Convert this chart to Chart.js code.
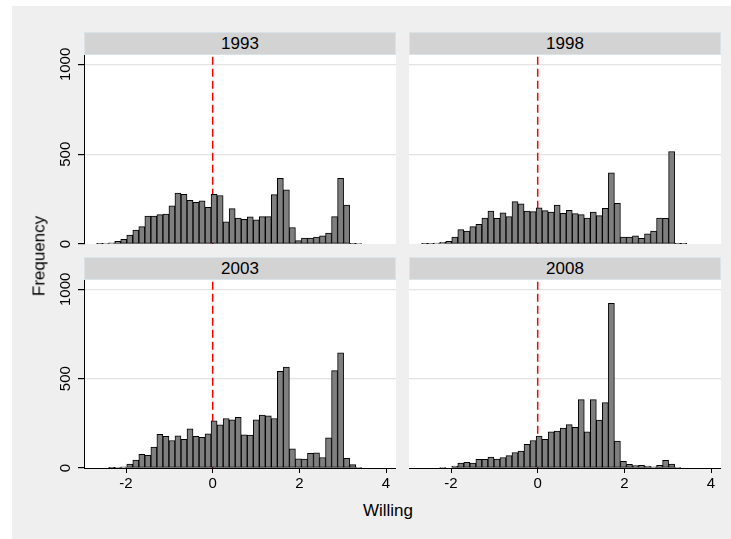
<!DOCTYPE html>
<html>
<head>
<meta charset="utf-8">
<script src="https://cdn.jsdelivr.net/npm/chart.js@4.4.1/dist/chart.umd.min.js"></script>
<style>
  body { margin: 0; background: #ffffff; font-family: "Liberation Sans", Arial, Helvetica, sans-serif; overflow: hidden; }
  #graph { position: absolute; left: 12px; top: 6px; right: 0; bottom: 0; background: #efefef; }
  canvas { position: absolute; }
  .strip {
    position: absolute; box-sizing: border-box; height: 23px; width: 312px;
    background: #d3d3d3; border: 1px solid #d8e4ea;
    font-size: 17px; line-height: 21px; text-align: center; color: #000;
  }
  .title { position: absolute; font-size: 17px; line-height: 1; color: #000; white-space: nowrap; }
</style>
</head>
<body>
<div id="graph"></div>

<canvas id="p1993" width="366" height="214" style="left:30px;top:40px"></canvas>
<canvas id="p1998" width="312" height="214" style="left:409px;top:40px"></canvas>
<canvas id="p2003" width="366" height="236" style="left:30px;top:262px"></canvas>
<canvas id="p2008" width="312" height="236" style="left:409px;top:262px"></canvas>

<div class="strip" style="left:84px;top:32px">1993</div>
<div class="strip" style="left:409px;top:32px">1998</div>
<div class="strip" style="left:84px;top:257px">2003</div>
<div class="strip" style="left:409px;top:257px">2008</div>

<div class="title" style="left:39px;top:256px;transform:translate(-50%,-50%) rotate(-90deg)">Frequency</div>
<div class="title" style="left:388px;top:510px;transform:translate(-50%,-50%)">Willing</div>

<script>
// histogram bins shared by all four years
var binStart = -2.678;
var binWidth = 0.139;

// frequency per bin, one array per survey year
var freq1993 = [2, 3, 6, 15, 26, 50, 78, 97, 156, 156, 164, 167, 212, 284, 277, 243, 232, 240, 204, 277,
                270, 123, 197, 145, 138, 151, 134, 152, 152, 275, 366, 301, 91, 19, 33, 33, 39, 46, 61, 152,
                366, 217, 2, 3];
var freq1998 = [2, 1, 5, 9, 15, 39, 80, 72, 97, 110, 145, 184, 143, 173, 152, 236, 223, 184, 180, 201,
                186, 178, 217, 171, 188, 169, 164, 145, 178, 158, 199, 396, 227, 39, 39, 45, 32, 56, 72, 145,
                143, 515, 2, 2];
var freq2003 = [0, 0, 2, 4, 7, 22, 45, 76, 71, 117, 188, 177, 154, 180, 160, 219, 177, 171, 191, 264,
                242, 277, 270, 283, 186, 184, 270, 296, 292, 277, 541, 565, 108, 52, 50, 82, 85, 59, 169, 545,
                645, 54, 19, 4];
var freq2008 = [0, 0, 0, 4, 0, 11, 28, 32, 28, 48, 48, 61, 50, 59, 69, 87, 95, 132, 154, 178,
                160, 203, 206, 223, 243, 227, 383, 203, 383, 268, 366, 922, 150, 37, 20, 13, 15, 11, 6, 15,
                43, 22, 4, 0];

// axes
var xMin = -2.97, xMax = 4.23;
var yMin = 0, yMax = 1058;
var xTicks = [-2, 0, 2, 4];
var yTicks = [0, 500, 1000];
var refLine = 0;       // vertical reference line at Willing = 0
var refLineTop = 1042;

var font = { family: "'Liberation Sans', Arial, Helvetica, sans-serif", size: 15 };

var plotBackground = {
  id: 'plotBackground',
  beforeDraw: function(chart) {
    var a = chart.chartArea;
    chart.ctx.save();
    chart.ctx.fillStyle = '#ffffff';
    chart.ctx.fillRect(a.left, a.top, a.right - a.left, a.bottom - a.top);
    chart.ctx.restore();
  }
};

// dashed red line drawn under the bars
var zeroLine = {
  id: 'zeroLine',
  beforeDatasetsDraw: function(chart) {
    var ctx = chart.ctx;
    var px = chart.scales.x.getPixelForValue(refLine);
    ctx.save();
    ctx.strokeStyle = '#ff0000';
    ctx.lineWidth = 1.5;
    ctx.setLineDash([8, 4]);
    ctx.beginPath();
    ctx.moveTo(px, chart.scales.y.getPixelForValue(refLineTop));
    ctx.lineTo(px, chart.scales.y.getPixelForValue(0));
    ctx.stroke();
    ctx.restore();
  }
};

function plainLabel(v) { return String(v); }

function makePanel(id, values, showY, showX) {
  var points = values.map(function(v, i) {
    return { x: binStart + binWidth * (i + 0.5), y: v };
  });

  new Chart(document.getElementById(id), {
    type: 'bar',
    data: {
      datasets: [{
        data: points,
        backgroundColor: '#7f7f7f',
        borderColor: '#000000',
        borderWidth: 1,
        borderSkipped: false,
        barPercentage: 1,
        categoryPercentage: 1
      }]
    },
    options: {
      responsive: false,
      animation: false,
      devicePixelRatio: 1,
      layout: { padding: { top: showX ? 17 : 14, bottom: showX ? 0 : 10, left: 0, right: 0 } },
      plugins: { legend: { display: false }, tooltip: { enabled: false } },
      scales: {
        x: {
          type: 'linear',
          display: showX,
          min: xMin,
          max: xMax,
          offset: false,
          afterBuildTicks: function(s) { s.ticks = xTicks.map(function(v) { return { value: v }; }); },
          afterFit: function(s) { s.height = showX ? 30 : 0; },
          border: { display: true, color: '#000000', width: 1 },
          grid: { drawOnChartArea: false, offset: false, tickColor: '#000000', tickLength: 5 },
          ticks: { padding: 2, maxRotation: 0, font: font, color: '#000000', callback: plainLabel }
        },
        y: {
          type: 'linear',
          min: yMin,
          max: yMax,
          afterBuildTicks: function(s) { s.ticks = yTicks.map(function(v) { return { value: v }; }); },
          afterFit: function(s) { s.width = showY ? 54 : 0; },
          border: { display: showY, color: '#000000', width: 1 },
          grid: {
            color: function(c) { return c.tick && c.tick.value === 0 ? 'rgba(0,0,0,0)' : '#e4e4e4'; },
            lineWidth: 1.2,
            drawTicks: showY,
            tickColor: '#000000',
            tickLength: 6
          },
          ticks: {
            display: showY,
            minRotation: 90,
            maxRotation: 90,
            crossAlign: 'center',
            padding: -5,
            font: font,
            color: '#000000',
            callback: plainLabel
          }
        }
      }
    },
    plugins: [plotBackground, zeroLine]
  });
}

makePanel('p1993', freq1993, true, false);
makePanel('p1998', freq1998, false, false);
makePanel('p2003', freq2003, true, true);
makePanel('p2008', freq2008, false, true);
</script>
</body>
</html>
